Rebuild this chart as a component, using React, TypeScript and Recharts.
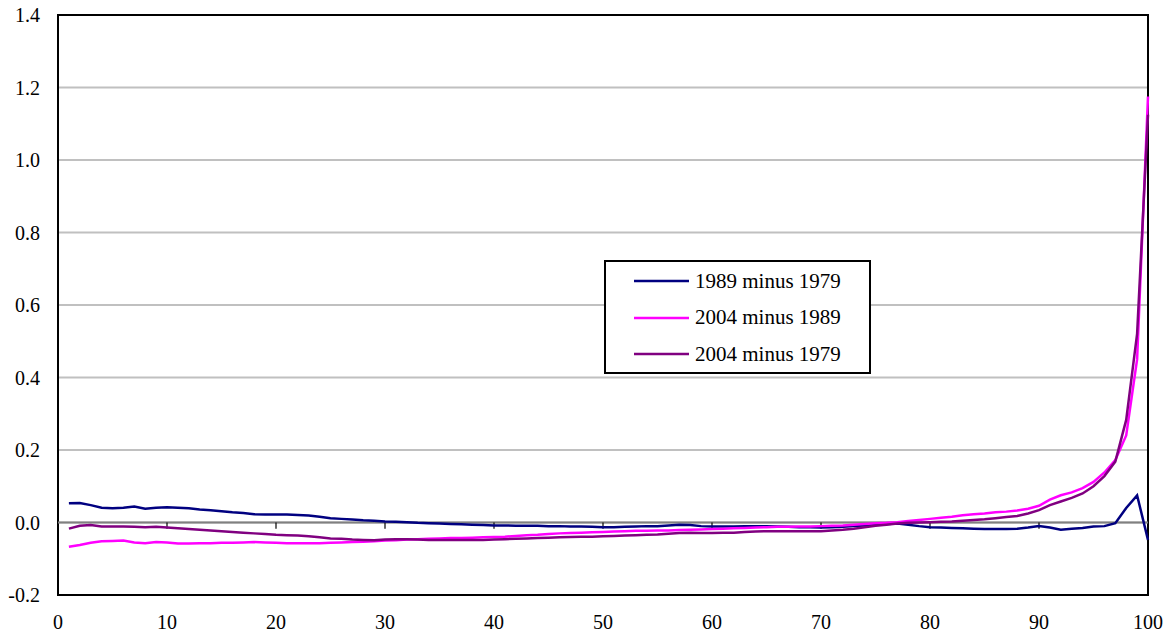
import React from 'react'
import { LineChart, Line, XAxis, YAxis, CartesianGrid, ReferenceLine, ReferenceArea } from 'recharts'

// percentile 1..100
const percentiles = Array.from({ length: 100 }, (_, i) => i + 1)

const diff89_79 = [
  0.053, 0.054, 0.048, 0.041, 0.039, 0.041, 0.044, 0.038, 0.041, 0.042,
  0.041, 0.039, 0.036, 0.034, 0.031, 0.028, 0.026, 0.023, 0.022, 0.022,
  0.022, 0.021, 0.019, 0.016, 0.012, 0.010, 0.008, 0.006, 0.005, 0.003,
  0.002, 0.001, -0.001, -0.002, -0.003, -0.004, -0.005, -0.006, -0.007, -0.008,
  -0.008, -0.009, -0.009, -0.009, -0.010, -0.010, -0.011, -0.011, -0.012, -0.013,
  -0.013, -0.012, -0.011, -0.010, -0.010, -0.008, -0.006, -0.007, -0.010, -0.011,
  -0.011, -0.011, -0.010, -0.010, -0.010, -0.011, -0.012, -0.013, -0.013, -0.014,
  -0.013, -0.012, -0.010, -0.008, -0.006, -0.004, -0.003, -0.006, -0.010, -0.013,
  -0.014, -0.015, -0.016, -0.017, -0.018, -0.018, -0.018, -0.017, -0.014, -0.010,
  -0.014, -0.020, -0.017, -0.015, -0.011, -0.010, -0.002, 0.040, 0.075, -0.048,
]

const diff04_89 = [
  -0.067, -0.062, -0.056, -0.052, -0.051, -0.050, -0.055, -0.057, -0.054, -0.055,
  -0.058, -0.058, -0.057, -0.057, -0.056, -0.056, -0.055, -0.054, -0.055, -0.056,
  -0.057, -0.057, -0.057, -0.057, -0.056, -0.055, -0.054, -0.053, -0.052, -0.050,
  -0.049, -0.047, -0.046, -0.045, -0.044, -0.043, -0.043, -0.042, -0.041, -0.040,
  -0.039, -0.037, -0.035, -0.034, -0.032, -0.030, -0.029, -0.028, -0.027, -0.026,
  -0.025, -0.024, -0.023, -0.023, -0.022, -0.022, -0.021, -0.020, -0.019, -0.018,
  -0.017, -0.016, -0.015, -0.014, -0.013, -0.012, -0.012, -0.011, -0.011, -0.010,
  -0.009, -0.008, -0.006, -0.004, -0.002, -0.001, 0.001, 0.004, 0.007, 0.010,
  0.013, 0.016, 0.020, 0.023, 0.025, 0.028, 0.030, 0.033, 0.038, 0.046,
  0.063, 0.075, 0.083, 0.095, 0.112, 0.138, 0.172, 0.240, 0.450, 1.175,
]

const diff04_79 = [
  -0.017, -0.009, -0.007, -0.011, -0.011, -0.011, -0.012, -0.013, -0.012, -0.014,
  -0.016, -0.018, -0.020, -0.022, -0.024, -0.026, -0.028, -0.030, -0.032, -0.034,
  -0.035, -0.036, -0.038, -0.041, -0.044, -0.045, -0.047, -0.048, -0.049, -0.047,
  -0.046, -0.046, -0.047, -0.048, -0.048, -0.048, -0.048, -0.048, -0.048, -0.047,
  -0.046, -0.045, -0.044, -0.043, -0.042, -0.041, -0.040, -0.039, -0.039, -0.038,
  -0.037, -0.036, -0.035, -0.034, -0.033, -0.031, -0.029, -0.028, -0.029, -0.029,
  -0.028, -0.028, -0.026, -0.025, -0.024, -0.024, -0.024, -0.024, -0.024, -0.024,
  -0.022, -0.020, -0.017, -0.013, -0.009, -0.006, -0.003, -0.001, 0.000, 0.001,
  0.002, 0.003, 0.005, 0.007, 0.009, 0.012, 0.015, 0.018, 0.025, 0.034,
  0.048, 0.058, 0.068, 0.080, 0.100, 0.128, 0.168, 0.283, 0.520, 1.125,
]

const xTicks = [0, 10, 20, 30, 40, 50, 60, 70, 80, 90, 100]
const yTicks = [-0.2, 0, 0.2, 0.4, 0.6, 0.8, 1.0, 1.2, 1.4]
// small tick marks that hang below the zero line
const zeroLineTicks = [10, 20, 30, 40, 50, 60, 70, 80, 90]

const series = [
  { key: 'a', name: '1989 minus 1979', color: '#000080' },
  { key: 'b', name: '2004 minus 1989', color: '#ff00ff' },
  { key: 'c', name: '2004 minus 1979', color: '#800080' },
]

const data = percentiles.map((p, i) => ({
  p,
  a: diff89_79[i],
  b: diff04_89[i],
  c: diff04_79[i],
}))

const FONT = '"Times New Roman", "Liberation Serif", serif'

// Excel-style legend box floating over the plot
function LegendBox() {
  return (
    <div
      style={{
        position: 'absolute',
        left: 604,
        top: 260,
        boxSizing: 'border-box',
        width: 267,
        height: 114,
        border: '2px solid #000',
        background: '#fff',
        paddingTop: 1,
        fontFamily: FONT,
        fontSize: 21,
        color: '#000',
      }}
    >
      {series.map((s) => (
        <div key={s.key} style={{ display: 'flex', alignItems: 'center', height: 36.5 }}>
          <svg width={55} height={4} style={{ marginLeft: 28, marginRight: 6 }}>
            <line x1={0} y1={2} x2={55} y2={2} stroke={s.color} strokeWidth={2.5} />
          </svg>
          <span>{s.name}</span>
        </div>
      ))}
    </div>
  )
}

export default function App() {
  return (
    <div style={{ position: 'absolute', left: 0, top: 0, width: 1170, height: 638, background: '#fff' }}>
      <LineChart width={1170} height={638} data={data} margin={{ top: 15, right: 22, bottom: 0, left: 0 }}>
        <CartesianGrid vertical={false} stroke="#c0c0c0" strokeWidth={2} />
        <XAxis
          dataKey="p"
          type="number"
          domain={[0, 100]}
          ticks={xTicks}
          axisLine={false}
          tickLine={false}
          tickSize={0}
          tickMargin={20}
          height={43}
          tick={{ fill: '#000', fontFamily: FONT, fontSize: 20 }}
        />
        <YAxis
          type="number"
          domain={[-0.2, 1.4]}
          ticks={yTicks}
          width={58}
          axisLine={false}
          tickLine={false}
          tickSize={0}
          tickMargin={18}
          tickFormatter={(v: number) => v.toFixed(1)}
          tick={{ fill: '#000', fontFamily: FONT, fontSize: 20 }}
        />
        <ReferenceLine y={0} stroke="#808080" strokeWidth={2} />
        {zeroLineTicks.map((t) => (
          <ReferenceLine
            key={t}
            segment={[{ x: t, y: 0 }, { x: t, y: -0.017 }]}
            stroke="#000"
            strokeWidth={1.2}
          />
        ))}
        <ReferenceArea x1={0} x2={100} y1={-0.2} y2={1.4} fill="none" stroke="#000" strokeWidth={2} />
        {series.map((s) => (
          <Line
            key={s.key}
            type="linear"
            dataKey={s.key}
            name={s.name}
            stroke={s.color}
            strokeWidth={2.5}
            dot={false}
            isAnimationActive={false}
          />
        ))}
      </LineChart>
      <LegendBox />
    </div>
  )
}
